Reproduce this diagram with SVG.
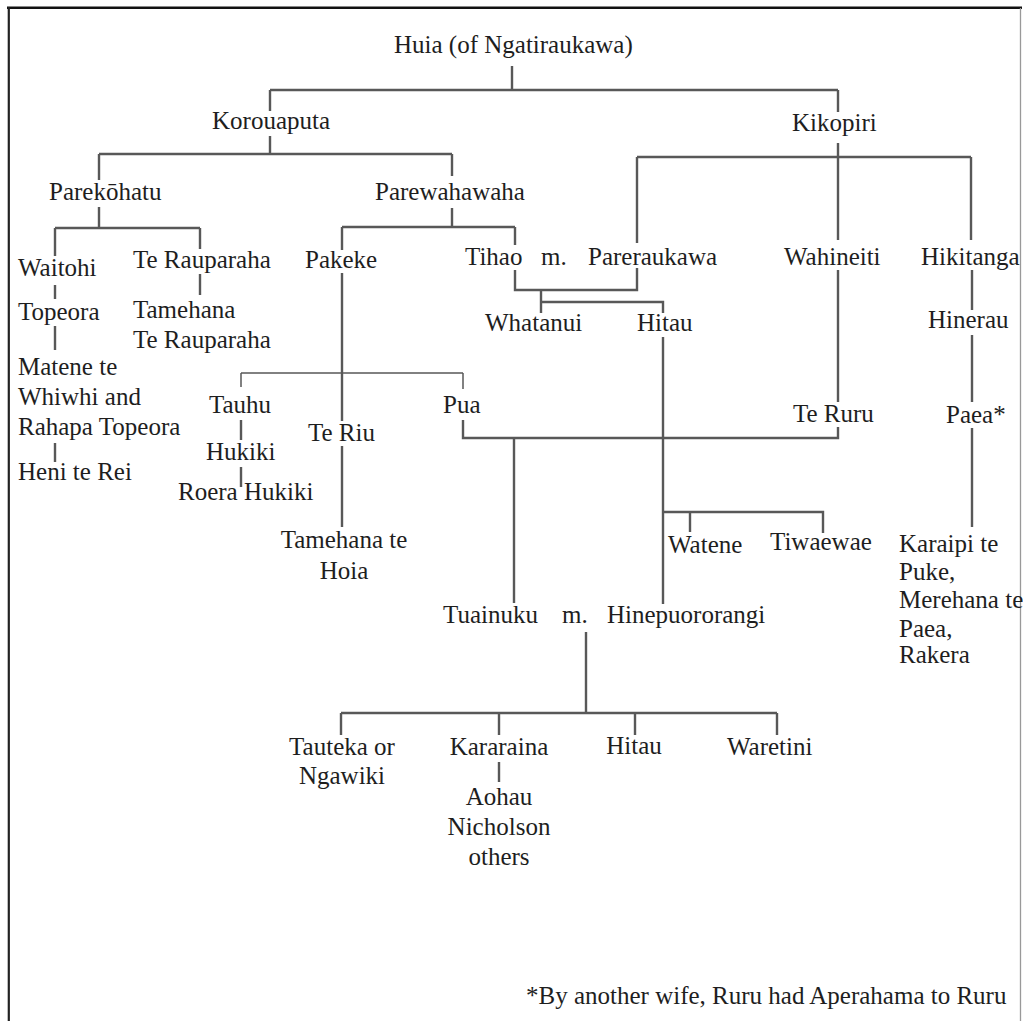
<svg xmlns="http://www.w3.org/2000/svg" width="1023" height="1021" viewBox="0 0 1023 1021">
<style>
.t text{font-size:25px;fill:#1e1e1e}
.c{text-anchor:middle}
.ln{fill:none;stroke:#585858;stroke-width:2.4;stroke-linecap:butt;stroke-linejoin:miter}
.thin{stroke-width:1.5}
</style>
<rect x="0" y="0" width="1023" height="1021" fill="#fff"/>
<g id="frame">
<line x1="7" y1="7.8" x2="1022" y2="7.8" stroke="#111" stroke-width="2.4"/>
<line x1="8.8" y1="7" x2="8.8" y2="1021" stroke="#222" stroke-width="2.2"/>
<line x1="1020.5" y1="8" x2="1020.5" y2="1021" stroke="#999" stroke-width="1.3"/>
</g>
<g id="connectors">
<path class="ln" d="M512 66V90M270 90H838M270 90V111M838 90V112"/>
<path class="ln" d="M270 136V154M99 154H452M99 154V180M452 154V176"/>
<path class="ln" d="M838 143V240M637 157H971M637 157V243M971 157V240"/>
<path class="ln" d="M99 207V228M55 228H200M55 228V256M200 228V249"/>
<path class="ln" d="M452 208V227M342 227H515M342 227V250M515 227V245"/>
<path class="ln" d="M55 285V299M55 326V350M55 443V462"/>
<path class="ln" d="M200 274V295"/>
<path class="ln" d="M342 273V421M342 446V527"/>
<path class="ln thin" d="M241 373H463M241 373V387M463 373V389"/>
<path class="ln" d="M241 420V440M241 467V487"/>
<path class="ln" d="M463 420V438H838V427M514 438V603"/>
<path class="ln" d="M515 270V290H637V268M541 290V313M541 302H663V313"/>
<path class="ln" d="M663 337V604M663 512H823V533M690 512V532"/>
<path class="ln" d="M838 270V402"/>
<path class="ln" d="M972 270V310M972 335V402M972 428V527"/>
<path class="ln" d="M586 632V713M341 713H777M341 713V735M499 713V735M635 713V735M777 713V735"/>
<path class="ln" d="M499 762V782"/>
</g>
<g class="t" font-family="Liberation Serif, Times New Roman, serif">
<g id="huia"><text x="394" y="53">Huia (of Ngatiraukawa)</text></g>
<g id="korouaputa"><text x="212" y="129">Korouaputa</text></g>
<g id="kikopiri"><text x="792" y="131">Kikopiri</text></g>
<g id="parekohatu"><text x="49" y="200">Parekōhatu</text></g>
<g id="parewahawaha"><text x="375" y="200">Parewahawaha</text></g>
<g id="waitohi"><text x="18" y="276">Waitohi</text></g>
<g id="te-rauparaha"><text x="133" y="268">Te Rauparaha</text></g>
<g id="pakeke"><text x="305" y="268">Pakeke</text></g>
<g id="tihao"><text x="465" y="265">Tihao</text></g>
<g id="tihao-m"><text x="541" y="265">m.</text></g>
<g id="pareraukawa"><text x="588" y="265">Pareraukawa</text></g>
<g id="wahineiti"><text x="784" y="265">Wahineiti</text></g>
<g id="hikitanga"><text x="921" y="265">Hikitanga</text></g>
<g id="topeora"><text x="18" y="320">Topeora</text></g>
<g id="tamehana-te-rauparaha"><text x="133" y="318">Tamehana</text><text x="133" y="348">Te Rauparaha</text></g>
<g id="whatanui"><text x="485" y="331">Whatanui</text></g>
<g id="hitau-1"><text x="637" y="331">Hitau</text></g>
<g id="hinerau"><text x="928" y="328">Hinerau</text></g>
<g id="matene"><text x="18" y="375">Matene te</text><text x="18" y="405">Whiwhi and</text><text x="18" y="435">Rahapa Topeora</text></g>
<g id="heni"><text x="18" y="480">Heni te Rei</text></g>
<g id="tauhu"><text x="209" y="413">Tauhu</text></g>
<g id="pua"><text x="443" y="413">Pua</text></g>
<g id="te-riu"><text x="308" y="441">Te Riu</text></g>
<g id="te-ruru"><text x="793" y="422">Te Ruru</text></g>
<g id="paea"><text x="946" y="423">Paea*</text></g>
<g id="hukiki"><text x="206" y="460">Hukiki</text></g>
<g id="roera"><text x="178" y="500">Roera Hukiki</text></g>
<g id="tamehana-te-hoia"><text class="c" x="344" y="548">Tamehana te</text><text class="c" x="344" y="579">Hoia</text></g>
<g id="watene"><text x="668" y="553">Watene</text></g>
<g id="tiwaewae"><text x="770" y="550">Tiwaewae</text></g>
<g id="karaipi"><text x="899" y="552">Karaipi te</text><text x="899" y="580">Puke,</text><text x="899" y="608">Merehana te</text><text x="899" y="637">Paea,</text><text x="899" y="663">Rakera</text></g>
<g id="tuainuku"><text x="443" y="623">Tuainuku</text></g>
<g id="tuainuku-m"><text x="562" y="623">m.</text></g>
<g id="hinepuororangi"><text x="607" y="623">Hinepuororangi</text></g>
<g id="tauteka"><text class="c" x="342" y="755">Tauteka or</text><text class="c" x="342" y="784">Ngawiki</text></g>
<g id="kararaina"><text class="c" x="499" y="755">Kararaina</text></g>
<g id="aohau"><text class="c" x="499" y="805">Aohau</text><text class="c" x="499" y="835">Nicholson</text><text class="c" x="499" y="865">others</text></g>
<g id="hitau-2"><text class="c" x="634" y="754">Hitau</text></g>
<g id="waretini"><text x="727" y="755">Waretini</text></g>
<g id="footnote"><text x="526" y="1004">*By another wife, Ruru had Aperahama to Ruru</text></g>
</g>
</svg>
